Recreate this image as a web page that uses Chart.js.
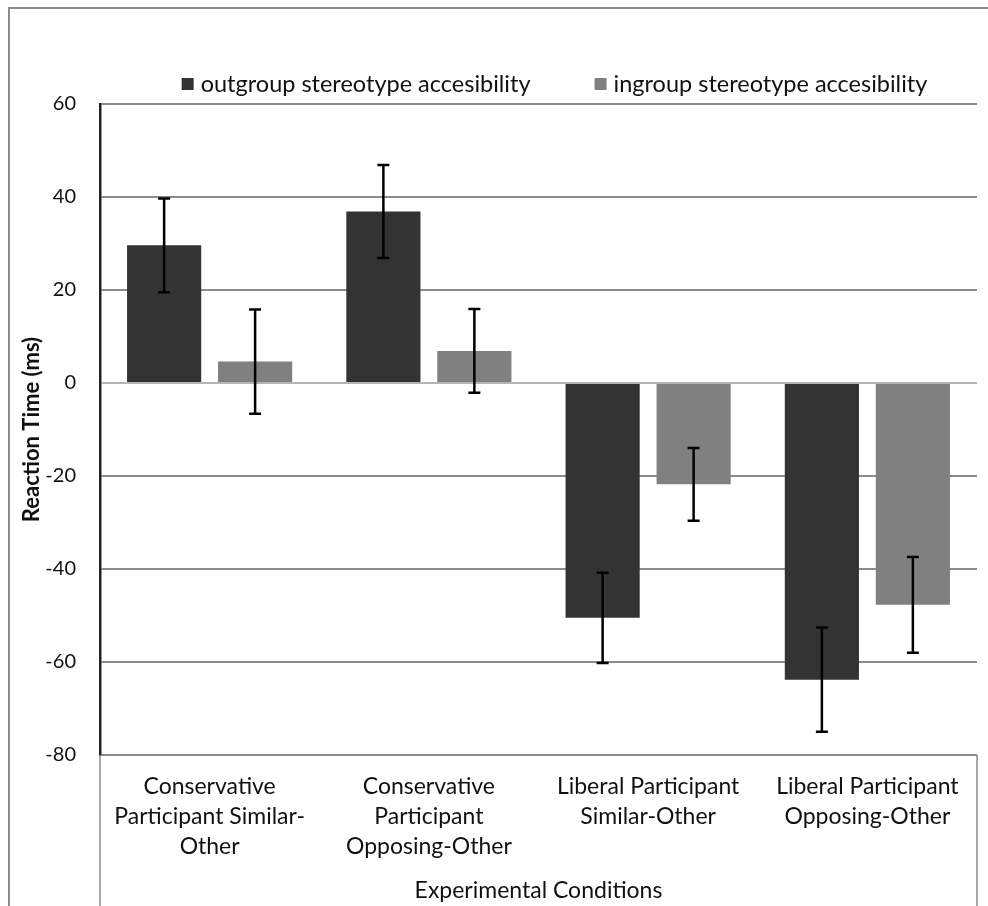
<!DOCTYPE html>
<html>
<head>
<meta charset="utf-8">
<script src="https://cdn.jsdelivr.net/npm/chart.js@4.4.1/dist/chart.umd.min.js"></script>
<style>
  html, body { margin: 0; padding: 0; background: #fff; }
  #wrap { position: relative; width: 988px; height: 906px; }
</style>
</head>
<body>
<div id="wrap"><canvas id="chart" width="988" height="906"></canvas></div>
<script>
// Categories (x axis, wrapped like the original)
const conditions = [
  ['Conservative', 'Participant Similar-', 'Other'],
  ['Conservative', 'Participant', 'Opposing-Other'],
  ['Liberal Participant', 'Similar-Other'],
  ['Liberal Participant', 'Opposing-Other']
];

// Series values (ms) and error bar half-widths
const outgroupValues = [29.6, 36.9, -50.5, -63.8];
const outgroupErrors = [10.1, 10.0, 9.7, 11.2];
const ingroupValues = [4.6, 6.9, -21.8, -47.7];
const ingroupErrors = [11.2, 9.0, 7.8, 10.3];

// Y axis ticks
const yTicks = [-80, -60, -40, -20, 0, 20, 40, 60];

const FONT = 'Lato, "Open Sans", sans-serif';

// Outer frame + the box under the plot area
const framePlugin = {
  id: 'frame',
  beforeDraw(chart) {
    const ctx = chart.ctx;
    ctx.save();
    ctx.fillStyle = '#fff';
    ctx.fillRect(0, 0, chart.width, chart.height);
    ctx.strokeStyle = '#8c8c8c';
    ctx.lineWidth = 2;
    ctx.strokeRect(9, 8, chart.width + 20, chart.height + 20);
    ctx.restore();
  },
  afterDraw(chart) {
    const ctx = chart.ctx;
    const a = chart.chartArea;
    ctx.save();
    ctx.strokeStyle = '#8c8c8c';
    ctx.lineWidth = 1.5;
    ctx.beginPath();
    ctx.moveTo(a.left, a.bottom);
    ctx.lineTo(a.left, chart.height);
    ctx.moveTo(a.right, a.bottom);
    ctx.lineTo(a.right, chart.height);
    ctx.stroke();
    ctx.restore();
  }
};

// Error bars drawn through the y scale
const errorBarPlugin = {
  id: 'errorBars',
  afterDatasetsDraw(chart) {
    const ctx = chart.ctx;
    const y = chart.scales.y;
    ctx.save();
    ctx.strokeStyle = '#000';
    ctx.lineWidth = 2.5;
    chart.data.datasets.forEach(function(ds, i) {
      const meta = chart.getDatasetMeta(i);
      meta.data.forEach(function(bar, j) {
        const v = ds.data[j];
        const e = ds.errors[j];
        const top = y.getPixelForValue(v + e);
        const bot = y.getPixelForValue(v - e);
        ctx.beginPath();
        ctx.moveTo(bar.x, top);
        ctx.lineTo(bar.x, bot);
        ctx.moveTo(bar.x - 6, top);
        ctx.lineTo(bar.x + 6, top);
        ctx.moveTo(bar.x - 6, bot);
        ctx.lineTo(bar.x + 6, bot);
        ctx.stroke();
      });
    });
    ctx.restore();
  }
};

// Legend drawn on top, centred a little right of the plot centre
const legendPlugin = {
  id: 'topLegend',
  afterDraw(chart) {
    const ctx = chart.ctx;
    const a = chart.chartArea;
    const box = 12, gapText = 7, gapItem = 64;
    ctx.save();
    ctx.font = '23.5px ' + FONT;
    ctx.textBaseline = 'middle';
    const items = chart.data.datasets.map(function(ds) {
      return { label: ds.label, color: ds.backgroundColor, w: box + gapText + ctx.measureText(ds.label).width };
    });
    let total = items.reduce(function(s, it) { return s + it.w; }, 0) + gapItem * (items.length - 1);
    let x = (a.left + a.right) / 2 + 16 - total / 2;
    const yMid = 84;
    items.forEach(function(it) {
      ctx.fillStyle = it.color;
      ctx.fillRect(x, yMid - box / 2, box, box);
      ctx.fillStyle = '#111';
      ctx.fillText(it.label, x + box + gapText, yMid);
      x += it.w + gapItem;
    });
    ctx.restore();
  }
};

new Chart(document.getElementById('chart'), {
  type: 'bar',
  data: {
    labels: conditions,
    datasets: [
      {
        label: 'outgroup stereotype accesibility',
        data: outgroupValues,
        errors: outgroupErrors,
        backgroundColor: '#333333',
        categoryPercentage: 0.83,
        barPercentage: 0.815
      },
      {
        label: 'ingroup stereotype accesibility',
        data: ingroupValues,
        errors: ingroupErrors,
        backgroundColor: '#808080',
        categoryPercentage: 0.83,
        barPercentage: 0.815
      }
    ]
  },
  options: {
    responsive: false,
    animation: false,
    layout: {
      padding: { left: 10, right: 11, top: 104, bottom: 0 }
    },
    plugins: {
      legend: { display: false },
      tooltip: { enabled: false }
    },
    scales: {
      x: {
        afterFit: function(scale) { scale.height = 151; },
        grid: { display: false, drawTicks: false },
        border: { display: false },
        ticks: {
          color: '#111',
          maxRotation: 0,
          autoSkip: false,
          padding: 17,
          font: { family: FONT, size: 23, lineHeight: 1.3 }
        },
        title: {
          display: true,
          text: 'Experimental Conditions',
          color: '#111',
          font: { family: FONT, size: 23 },
          padding: { top: 4, bottom: 2 }
        }
      },
      y: {
        min: -80,
        max: 60,
        afterFit: function(scale) { scale.width = 90; },
        afterBuildTicks: function(scale) {
          scale.ticks = yTicks.map(function(v) { return { value: v }; });
        },
        grid: {
          drawTicks: false,
          lineWidth: 2,
          color: function(c) { return c.tick && c.tick.value === 0 ? '#b4b4b4' : '#8c8c8c'; }
        },
        border: { display: true, color: '#222', width: 2.5 },
        ticks: {
          color: '#111',
          padding: 24,
          font: { family: FONT, size: 20 }
        },
        title: {
          display: true,
          text: 'Reaction Time (ms)',
          color: '#111',
          font: { family: FONT, size: 22, weight: 'bold' },
          padding: { top: 9, bottom: 0 }
        }
      }
    }
  },
  plugins: [framePlugin, errorBarPlugin, legendPlugin]
});
</script>
</body>
</html>
